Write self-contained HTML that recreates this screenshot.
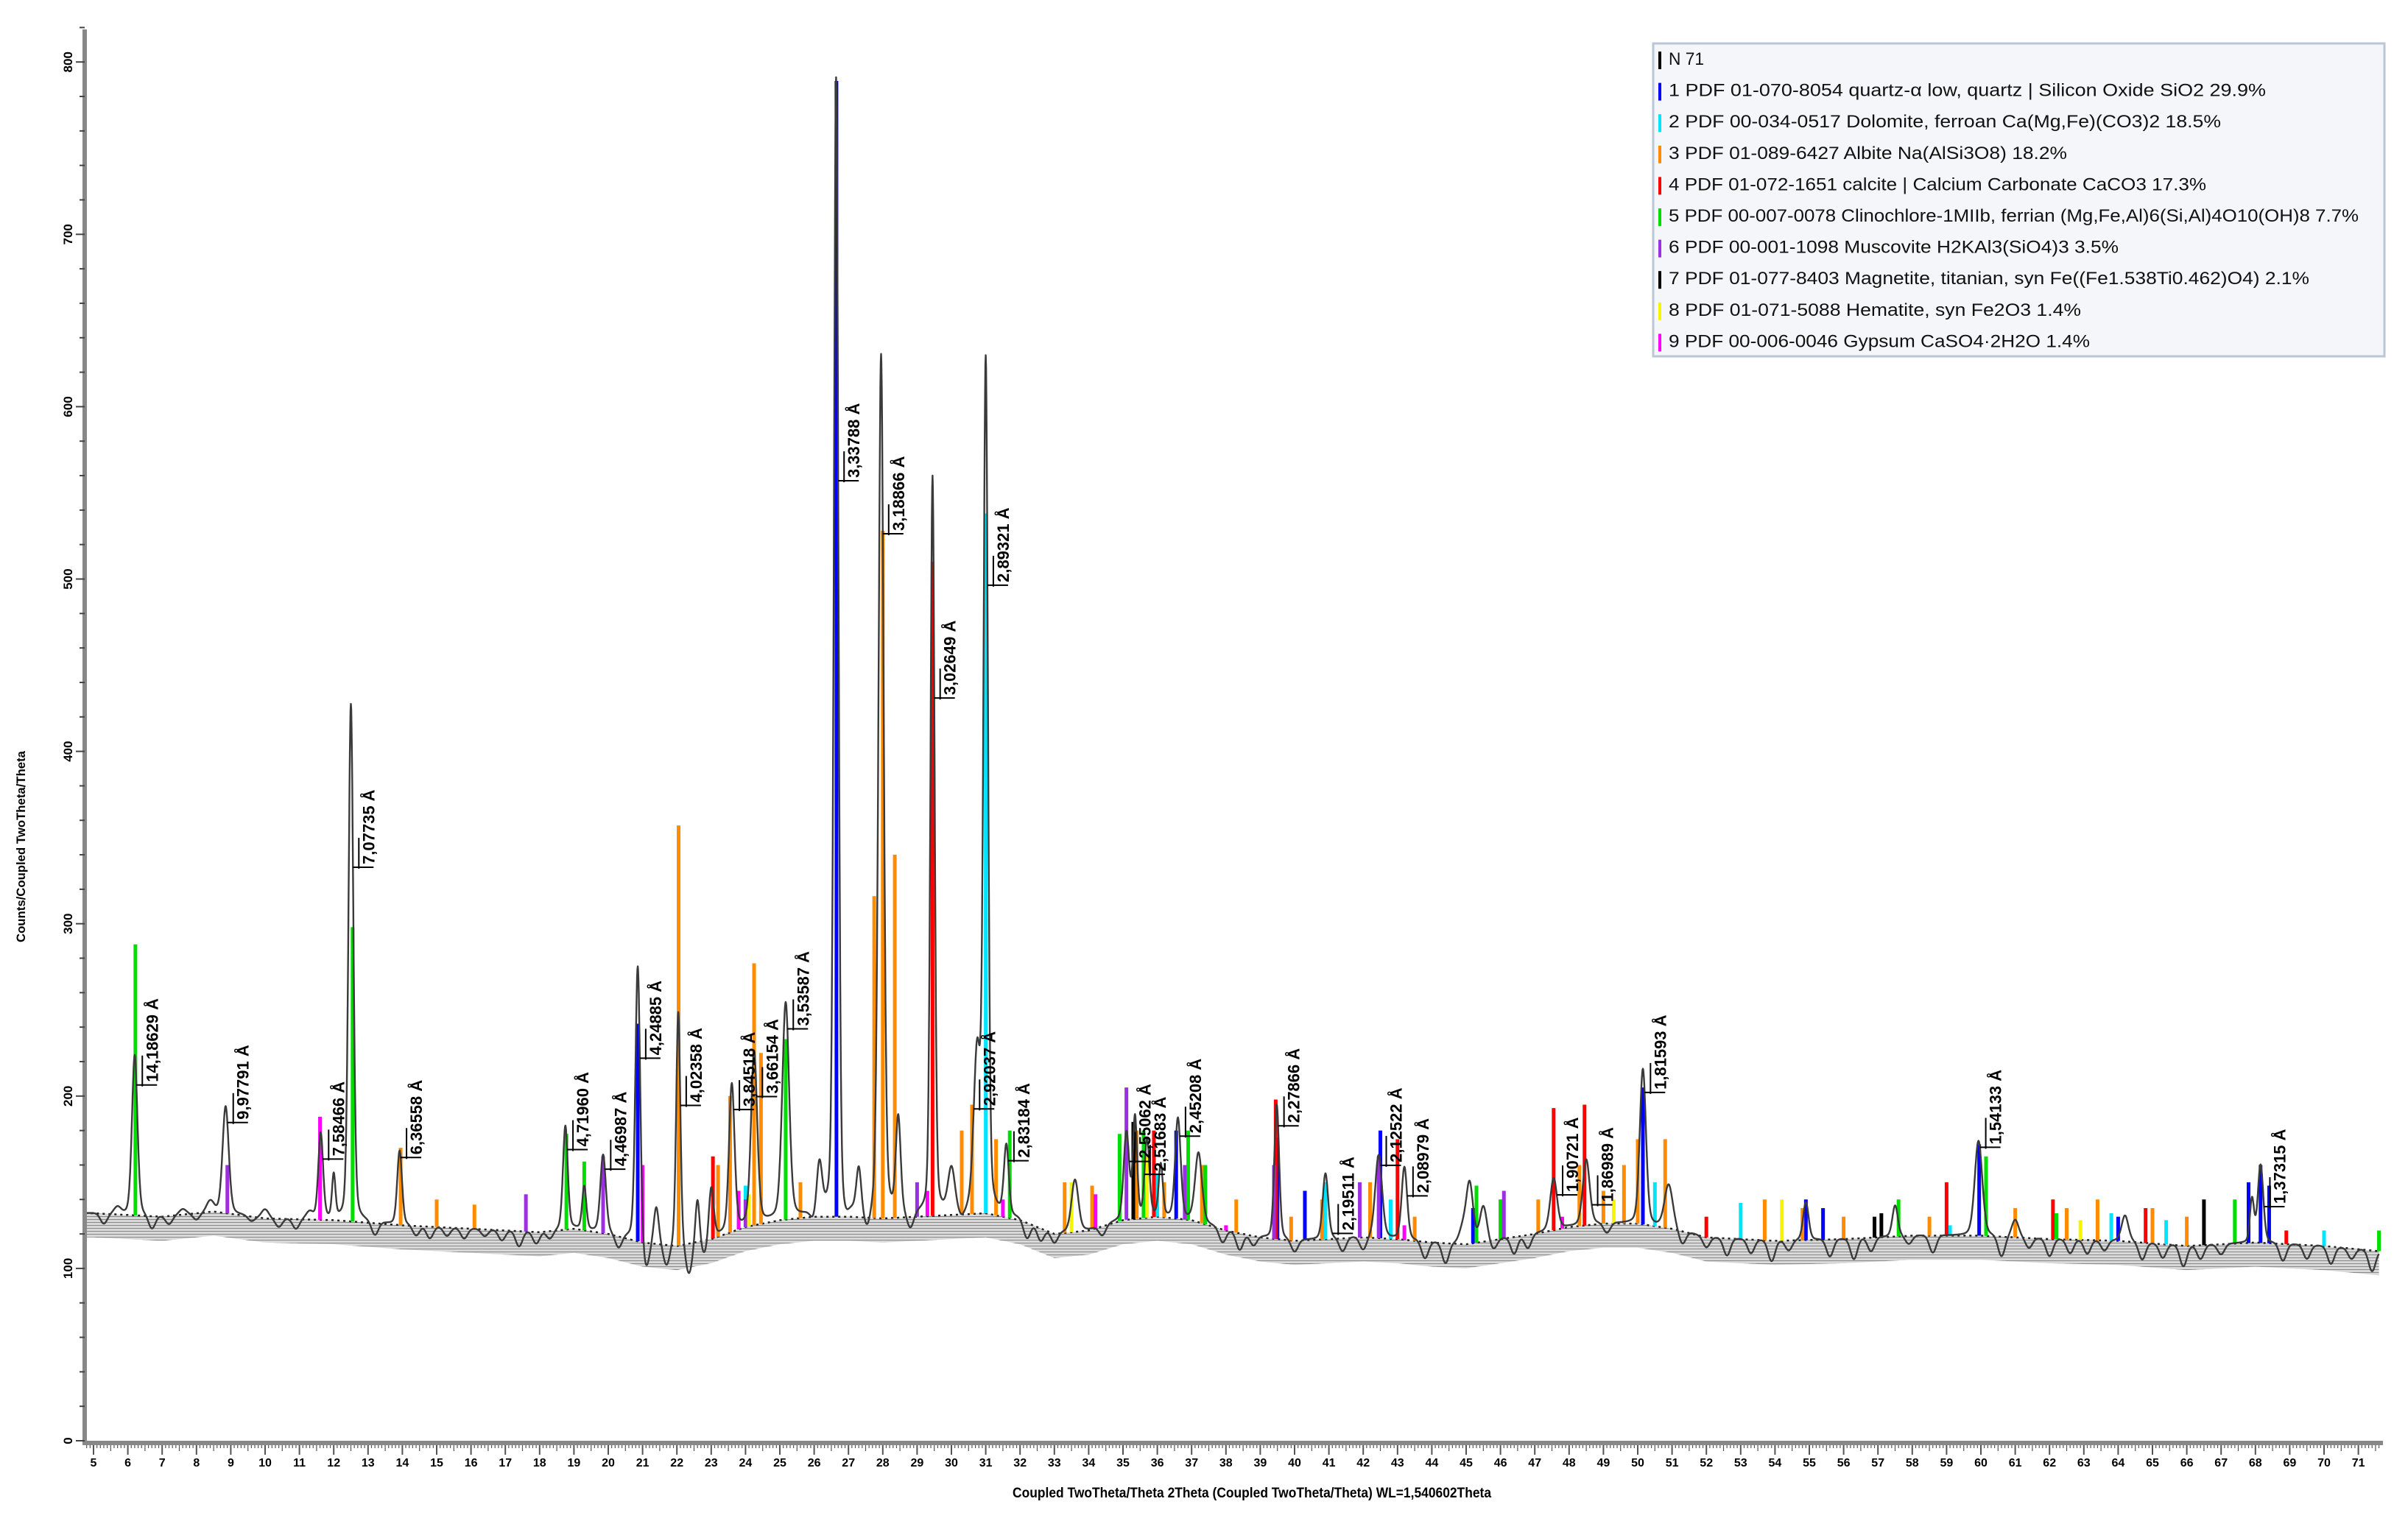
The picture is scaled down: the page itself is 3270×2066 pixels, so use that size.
<!DOCTYPE html>
<html><head><meta charset="utf-8"><style>
html,body{margin:0;padding:0;background:#fff;}
svg{display:block;font-family:"Liberation Sans",sans-serif;}
</style></head><body>
<svg id="chart" xmlns="http://www.w3.org/2000/svg" width="3270" height="2066" viewBox="0 0 3270 2066">
<defs>
<pattern id="hatch" width="4" height="4" patternUnits="userSpaceOnUse"><rect width="4" height="4" fill="#d8d8d8"/><line x1="0" y1="0.5" x2="4" y2="0.5" stroke="#888" stroke-width="1"/></pattern>
</defs>
<rect width="3270" height="2066" fill="#fff"/>
<g id="bgArea"></g>
<g id="sticks"></g>
<g id="curveG"></g>
<g id="labels"></g>
<g id="axes"></g>
<g>
<rect x="2245" y="59" width="993" height="425" fill="#f4f6f9" stroke="#b9c7d6" stroke-width="3"/>
<g id="legendRows"></g>
</g>
<text x="0" y="0" transform="translate(34,1150) rotate(-90)" text-anchor="middle" font-size="17" font-weight="bold" textLength="260" lengthAdjust="spacingAndGlyphs">Counts/Coupled TwoTheta/Theta</text>
<text x="1700" y="2034" text-anchor="middle" font-size="19" font-weight="bold" textLength="650" lengthAdjust="spacingAndGlyphs">Coupled TwoTheta/Theta 2Theta (Coupled TwoTheta/Theta) WL=1,540602Theta</text>
</svg>
<script>
// ---- data ----
const bgT=[4.7,5,7,8.5,10,12,14,16,18,19,20,21,22,23,24,25,26,27,28,29,30,31,32,33,34,35,36,37,38,39,40,41,42,43,44,45,46,47,48,49,50,51,52,54,56,58,60,62,64,66,68,70,71.6];
const bgC=[132,132,130,133,129,128,125,123,121,123,120,115,113,117,124,128,130,130,129,130,131,132,128,120,122,128,130,128,122,118,116,117,118,117,115,114,117,120,124,126,126,123,118,116,117,119,119,117,116,113,115,113,110];
const peakT=[6.2,8.85,11.62,12.0,12.5,13.92,18.75,19.3,19.85,20.86,21.4,22.04,22.6,23.0,23.6,24.25,25.17,26.15,26.64,27.3,27.95,28.45,29.45,30.0,30.75,31.0,31.6,33.6,35.1,35.35,35.7,36.1,36.6,37.2,39.48,40.9,42.45,43.2,45.1,45.5,47.55,48.5,50.15,50.9,54.9,57.5,59.93,61.0,64.2,67.9,68.15];
const peakH=[93,62,50,25,300,43,60,25,45,160,20,135,25,30,85,100,125,30,660,25,500,55,428,25,90,490,40,30,50,58,45,30,58,40,78,38,48,42,35,20,30,38,90,25,22,18,55,10,15,25,45];
const peakW=[0.08,0.09,0.07,0.05,0.07,0.07,0.07,0.06,0.08,0.07,0.07,0.06,0.06,0.07,0.08,0.09,0.1,0.08,0.065,0.07,0.075,0.07,0.06,0.1,0.1,0.065,0.07,0.1,0.08,0.06,0.07,0.06,0.08,0.1,0.07,0.08,0.1,0.08,0.1,0.1,0.1,0.1,0.09,0.12,0.08,0.08,0.11,0.1,0.1,0.06,0.08];
const rippleT=[5.3,5.7,6.7,7.2,7.6,8.0,8.4,9.6,10.0,10.4,10.9,11.3,13.2,14.4,14.8,15.3,15.8,16.4,16.9,17.4,17.9,18.3,20.3,21.1,21.7,22.35,22.8,26.0,26.9,27.55,28.8,30.3,32.2,32.6,33.0,34.4,37.9,38.4,38.8,40.0,41.4,42.0,43.8,44.4,44.9,45.8,46.4,46.8,49.1,51.3,52.0,52.6,53.3,53.9,54.4,55.6,56.3,56.8,57.9,58.6,60.6,61.4,62.0,62.6,63.1,63.6,64.7,65.3,65.9,66.4,67.0,68.8,69.5,70.2,70.8,71.4];
const rippleH=[-6,4,-8,-5,3,-4,6,-3,5,-5,-6,4,-8,-6,-7,-5,-6,-4,-6,-9,-7,-5,-8,-18,-14,-20,-10,-6,-8,-12,-10,-5,-10,-8,-6,-6,-8,-10,-6,-7,-8,-8,-10,-12,8,-6,-10,-8,-6,-8,-6,-10,-8,-12,-6,-10,-12,-8,-5,-10,-12,-6,-10,-8,-8,-6,-10,-8,-12,-8,-6,-10,-8,-10,-6,-12];
// sticks per phase (index = phase number 1..9)
const stickTByPhase=[[],
 [20.86,26.65,36.55,39.5,40.3,42.5,45.2,50.15,54.9,55.4,59.95,64.0,67.8,68.15,68.4],
 [24.0,31.0,36.0,40.9,42.8,46.0,50.5,53.0,59.1,63.8,65.4,70.0],
 [13.95,15.0,16.1,22.05,23.2,23.55,24.25,24.45,25.6,27.75,28.0,28.35,30.3,30.6,31.3,33.3,34.1,35.4,36.2,37.3,38.3,39.9,40.8,42.2,43.5,47.1,48.3,49.0,49.6,50.0,50.8,53.7,54.8,56.0,58.5,61.0,62.5,63.4,65.0,66.0],
 [23.05,29.45,35.9,39.45,43.0,47.55,48.45,59.0,62.1,64.8,68.9,52.0],
 [6.22,12.55,18.78,19.3,25.17,31.7,34.9,35.6,36.9,37.4,45.3,46.0,57.6,60.15,62.2,67.4,71.6],
 [8.9,17.6,19.85,24.0,29.0,35.1,36.8,39.4,41.9,42.45,46.1],
 [35.3,56.9,66.5,57.1],
 [24.1,33.5,35.7,49.3,54.2,62.9],
 [11.6,21.0,23.8,29.3,31.5,34.2,38.0,43.2,47.8]];
const stickCByPhase=[[],
 [242,789,180,176,145,180,135,205,140,135,172,130,150,160,148],
 [148,538,155,150,140,140,150,138,125,132,128,122],
 [170,140,137,357,160,200,277,225,150,316,528,340,180,195,175,150,148,180,150,160,140,130,140,150,130,140,160,145,160,175,175,140,135,130,130,135,135,140,135,130],
 [165,510,180,198,175,193,195,150,140,135,122,130],
 [288,298,178,162,233,180,178,180,180,160,148,140,140,165,132,140,122],
 [160,143,165,140,150,205,160,160,150,165,145],
 [185,130,140,132],
 [143,150,165,140,140,128],
 [188,160,145,145,140,143,125,125,130]];
const phaseColors=["#000","#0000ff","#00e5ff","#ff8c00","#ff0000","#00dd00","#9a30e0","#000000","#f5f500","#ff00ff"];
const labelText=["14,18629 Å","9,97791 Å","7,58466 Å","7,07735 Å","6,36558 Å","4,71960 Å","4,46987 Å","4,24885 Å","4,02358 Å","3,84518 Å","3,66154 Å","3,53587 Å","3,33788 Å","3,18866 Å","3,02649 Å","2,92037 Å","2,89321 Å","2,83184 Å","2,55062 Å","2,51683 Å","2,45208 Å","2,27866 Å","2,19511 Å","2,12522 Å","2,08979 Å","1,90721 Å","1,86989 Å","1,81593 Å","1,54133 Å","1,37315 Å"];
const labelT=[6.25,8.9,11.68,12.56,13.95,18.8,19.9,20.92,22.1,23.65,24.32,25.22,26.7,28.0,29.5,30.65,31.05,31.65,35.18,35.62,36.65,39.52,41.1,42.5,43.28,47.64,48.66,50.2,59.97,68.25];
const xTicks=[];for(let v=5;v<=71;v++)xTicks.push(v);
const yTicks=[0,100,200,300,400,500,600,700,800];
const legendLabels=["N 71","1 PDF 01-070-8054 quartz-α low, quartz | Silicon Oxide SiO2 29.9%","2 PDF 00-034-0517 Dolomite, ferroan Ca(Mg,Fe)(CO3)2 18.5%","3 PDF 01-089-6427 Albite Na(AlSi3O8) 18.2%","4 PDF 01-072-1651 calcite | Calcium Carbonate CaCO3 17.3%","5 PDF 00-007-0078 Clinochlore-1MIIb, ferrian (Mg,Fe,Al)6(Si,Al)4O10(OH)8 7.7%","6 PDF 00-001-1098 Muscovite H2KAl3(SiO4)3 3.5%","7 PDF 01-077-8403 Magnetite, titanian, syn Fe((Fe1.538Ti0.462)O4) 2.1%","8 PDF 01-071-5088 Hematite, syn Fe2O3 1.4%","9 PDF 00-006-0046 Gypsum CaSO4·2H2O 1.4%"];
const legendWidths=[48,811,750,541,730,937,611,870,560,572];

// ---- scales ----
const NS="http://www.w3.org/2000/svg";
const X=t=>127+(t-5)*46.6;
const Y=c=>1957-c*2.341;
const T0=4.75,T1=71.6;
function mk(tag,attrs,parent){const e=document.createElementNS(NS,tag);for(const k in attrs)e.setAttribute(k,attrs[k]);parent.appendChild(e);return e;}
function bg(t){for(let i=0;i<bgT.length-1;i++){if(t<=bgT[i+1]){const f=(t-bgT[i])/(bgT[i+1]-bgT[i]);return bgC[i]+(bgC[i+1]-bgC[i])*f;}}return bgC[bgC.length-1];}
function curve(t){let v=bg(t);for(let i=0;i<peakT.length;i++){const d=(t-peakT[i])/peakW[i];v+=peakH[i]*(0.75*Math.exp(-0.5*d*d)+0.25/(1+d*d*0.7));}
 for(let i=0;i<rippleT.length;i++){const d=(t-rippleT[i])/0.1;v+=rippleH[i]*Math.exp(-0.5*d*d);}return v;}

(function(){
const bgAreaG=document.getElementById('bgArea');
const upperPts=[],lowerPts=[];
for(let t=T0;t<=T1+1e-9;t+=0.05){upperPts.push(X(t).toFixed(1)+","+Y(bg(t)).toFixed(1));lowerPts.unshift(X(t).toFixed(1)+","+Y(bg(t)-14).toFixed(1));}
const area=mk('polygon',{points:upperPts.concat(lowerPts).join(' '),fill:'url(#hatch)'},bgAreaG);


const bgLine=mk('polyline',{points:upperPts.join(' '),fill:'none',stroke:'#222','stroke-width':2.5,'stroke-dasharray':'3,5'},bgAreaG);



const sg=document.getElementById('sticks');
for(let p=1;p<stickTByPhase.length;p++){
 const ts=stickTByPhase[p],cs=stickCByPhase[p];
 for(let i=0;i<ts.length;i++){
  const x=X(ts[i]);
  const l=mk('line',{x1:x,x2:x,y1:Y(bg(ts[i])),y2:Y(cs[i]),stroke:phaseColors[p],'stroke-width':5},sg);
  
  
 }
}

const cg=document.getElementById('curveG');
const pts=[];for(let t=T0;t<=T1+1e-9;t+=0.01)pts.push(X(t).toFixed(1)+","+Y(curve(t)).toFixed(1));
const cl=mk('polyline',{points:pts.join(' '),fill:'none',stroke:'#3a3a3a','stroke-width':2.4,'stroke-linejoin':'round'},cg);



const lg=document.getElementById('labels');
for(let i=0;i<labelT.length;i++){
 const x=X(labelT[i]),y=Y(curve(labelT[i]));
 const g=mk('g',{},lg);
 
 
 mk('line',{x1:x,y1:y,x2:x+28,y2:y,stroke:'#000','stroke-width':2},g);
 mk('line',{x1:x+8,y1:y+2,x2:x+8,y2:y-40,stroke:'#000','stroke-width':2},g);
 const tx=mk('text',{x:0,y:0,transform:`translate(${x+29},${y-4}) rotate(-90)`,'font-size':22,'font-weight':'bold',fill:'#000'},g);
 tx.textContent=labelText[i];
}

const ag=document.getElementById('axes');
const ya=mk('line',{x1:115,y1:40,x2:115,y2:1962,stroke:'#888','stroke-width':6},ag);


const xa=mk('line',{x1:112,y1:1960,x2:3236,y2:1960,stroke:'#888','stroke-width':6},ag);


for(let c=0;c<=820;c+=20){const big=c%100===0;mk('line',{x1:big?103:108,x2:115,y1:Y(c),y2:Y(c),stroke:'#444','stroke-width':2},ag);}
yTicks.forEach(v=>{const t=mk('text',{x:0,y:0,transform:`translate(98,${Y(v)}) rotate(-90)`,'text-anchor':'middle','font-size':17,'font-weight':'bold'},ag);
 
 
 t.textContent=v;});
for(let i=48;i<=716;i++){const t=i/10;const big=i%10===0,mid=i%5===0;mk('line',{x1:X(t),x2:X(t),y1:1963,y2:big?1976:(mid?1971:1967),stroke:'#555','stroke-width':big?2:1.2},ag);}
xTicks.forEach(v=>{const t=mk('text',{x:X(v),y:1992,'text-anchor':'middle','font-size':16,'font-weight':'bold'},ag);
 
 
 t.textContent=v;});

const lr=document.getElementById('legendRows');
for(let i=0;i<legendLabels.length;i++){
 const y=78+i*42.6;
 const g=mk('g',{},lr);
 
 
 mk('rect',{x:2252,y:y-8,width:4,height:24,fill:phaseColors[i]},g);
 const t=mk('text',{x:2266,y:y+10,'font-size':24,fill:'#111',textLength:legendWidths[i],lengthAdjust:'spacingAndGlyphs'},g);
 t.textContent=legendLabels[i];
}
})();
</script>
</body></html>
